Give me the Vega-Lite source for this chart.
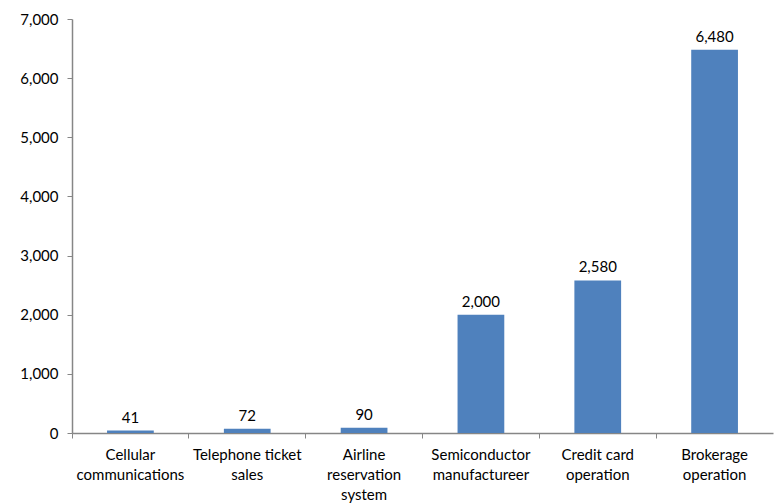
{
  "$schema": "https://vega.github.io/schema/vega-lite/v6.json",
  "width": 701,
  "height": 414,
  "autosize": {"type": "none"},
  "padding": {"left": 72, "top": 19, "right": 1, "bottom": 71},
  "config": {"view": {"stroke": null}, "font": "Lato"},
  "data": {
    "values": [
      {"category": "Cellular|communications", "value": 41},
      {"category": "Telephone ticket|sales", "value": 72},
      {"category": "Airline|reservation|system", "value": 90},
      {"category": "Semiconductor|manufactureer", "value": 2000},
      {"category": "Credit card|operation", "value": 2580},
      {"category": "Brokerage|operation", "value": 6480}
    ]
  },
  "encoding": {
    "x": {
      "field": "category",
      "type": "nominal",
      "sort": null,
      "scale": {"paddingInner": 0, "paddingOuter": 0},
      "axis": {
        "title": null,
        "labelAngle": 0,
        "labelExpr": "split(datum.label, '|')",
        "labelFontSize": 15,
        "labelColor": "#000000",
        "labelLineHeight": 20,
        "labelPadding": 9,
        "labelBaseline": "top",
        "bandPosition": 0,
        "tickSize": 5,
        "tickColor": "#868686",
        "domainColor": "#868686",
        "domainWidth": 1.5,
        "labelLimit": 200
      }
    },
    "y": {
      "field": "value",
      "type": "quantitative",
      "scale": {"domain": [0, 7000], "nice": false},
      "axis": {
        "title": null,
        "values": [0, 1000, 2000, 3000, 4000, 5000, 6000, 7000],
        "labelExpr": "format(datum.value, ',')",
        "grid": false,
        "labelFontSize": 15,
        "labelColor": "#000000",
        "labelPadding": 9,
        "tickSize": 5,
        "tickColor": "#868686",
        "domainColor": "#868686",
        "domainWidth": 1.5
      }
    }
  },
  "layer": [
    {"mark": {"type": "bar", "color": "#4F81BD", "width": {"band": 0.4}}},
    {
      "mark": {"type": "text", "dy": -13, "fontSize": 15, "color": "#000000"},
      "encoding": {"text": {"field": "value", "type": "quantitative", "format": ","}}
    }
  ]
}
